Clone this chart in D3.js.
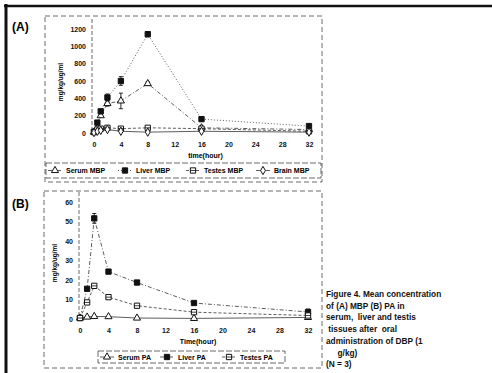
<!DOCTYPE html>
<html>
<head>
<meta charset="utf-8">
<script src="https://cdn.jsdelivr.net/npm/d3@7"></script>
<style>
  body { margin: 0; background: #fff; }
  svg { font-family: "Liberation Sans", Arial, sans-serif; }
  .tick text { font-size: 7px; font-weight: bold; fill: #111; }
</style>
</head>
<body>
<div id="chart"></div>
<script>
// panel A: MBP
const timesA = [0, 0.5, 1, 2, 4, 8, 16, 32];
const serumMBP = [10, 60, 200, 340, 370, 570, 60, 40];
const serumMBPsd = [0, 0, 0, 30, 90, 20, 0, 0];
const liverMBP = [15, 120, 250, 410, 600, 1140, 160, 80];
const liverMBPsd = [0, 0, 20, 40, 50, 30, 20, 20];
const testesMBP = [10, 40, 50, 60, 50, 60, 50, 20];
const brainMBP = [5, 20, 30, 40, 20, 10, 20, 10];
const yTicksA = [0, 200, 400, 600, 800, 1000, 1200];

// panel B: PA
const timesB = [0, 1, 2, 4, 8, 16, 32];
const serumPA = [0.5, 1, 1.3, 1.2, 0.5, 0.3, 0.8];
const liverPA = [0.5, 15.5, 51.6, 24.3, 18.7, 8.2, 3.6];
const liverPAsd = [0, 0, 2.5, 0, 0, 0, 1.5];
const testesPA = [0.5, 8.5, 17, 11.2, 6.8, 3.5, 1.8];
const yTicksB = [0, 10, 20, 30, 40, 50, 60];

const xTicks = [0, 4, 8, 12, 16, 20, 24, 28, 32];

const caption = ["Figure 4. Mean concentration", "of (A) MBP (B) PA in",
  "serum,  liver and testis", " tissues after  oral",
  "administration of DBP (1", "     g/kg)", "(N = 3)"];

const W = 492, H = 373;
const svg = d3.select("#chart").append("svg")
  .attr("width", W).attr("height", H);

// outer frame (top + left)
svg.append("line").attr("x1", 4).attr("x2", W).attr("y1", 6).attr("y2", 6)
  .attr("stroke", "#111").attr("stroke-width", 2.5);
svg.append("line").attr("x1", 6).attr("x2", 6).attr("y1", 4).attr("y2", H)
  .attr("stroke", "#111").attr("stroke-width", 3);

// dashed panel boxes
svg.append("rect").attr("x", 45).attr("y", 16).attr("width", 277).attr("height", 166)
  .attr("fill", "none").attr("stroke", "#444").attr("stroke-width", 0.8).attr("stroke-dasharray", "5,3");
svg.append("rect").attr("x", 44).attr("y", 191).attr("width", 278).attr("height", 177)
  .attr("fill", "none").attr("stroke", "#444").attr("stroke-width", 0.8).attr("stroke-dasharray", "5,3");

svg.append("text").attr("x", 12).attr("y", 31).text("(A)")
  .style("font-size", "12px").style("font-weight", "bold");
svg.append("text").attr("x", 12).attr("y", 208).text("(B)")
  .style("font-size", "12px").style("font-weight", "bold");

function symbolOf(kind) {
  if (kind == "tri") return d3.symbol().type(d3.symbolTriangle).size(22)();
  if (kind == "dia") return d3.symbol().type(d3.symbolDiamond).size(20)();
  return d3.symbol().type(d3.symbolSquare).size(28)();
}

function drawMarker(g, kind, x, y) {
  const filled = kind == "sq";
  g.append("path").attr("d", symbolOf(kind))
    .attr("transform", `translate(${x},${y})`)
    .attr("fill", filled ? "#111" : "#fff")
    .attr("stroke", "#111").attr("stroke-width", 1);
  if (kind == "osq") {
    g.append("line").attr("x1", x - 2.6).attr("x2", x + 2.6).attr("y1", y).attr("y2", y)
      .attr("stroke", "#111").attr("stroke-width", 0.8);
  }
}

function panel(opts) {
  const x = d3.scaleLinear().domain([0, 32]).range(opts.xr);
  const y = d3.scaleLinear().domain([0, opts.ymax]).range(opts.yr);
  const g = svg.append("g");

  // y axis (dashed line, labels only)
  g.append("line").attr("x1", opts.axisX).attr("x2", opts.axisX)
    .attr("y1", opts.yr[1] - 10).attr("y2", opts.yr[0] + 2)
    .attr("stroke", "#444").attr("stroke-width", 0.8).attr("stroke-dasharray", "4,2");

  const ya = g.append("g").attr("transform", `translate(${opts.axisX},0)`)
    .call(d3.axisLeft(y).tickValues(opts.yTicks).tickFormat(d3.format("d")).tickSize(0).tickPadding(6));
  ya.select(".domain").remove();

  const xa = g.append("g").attr("transform", `translate(0,${opts.yr[0] + 6})`)
    .call(d3.axisBottom(x).tickValues(xTicks).tickSize(0).tickPadding(3));
  xa.select(".domain").remove();

  g.append("text").attr("x", (opts.xr[0] + opts.xr[1]) / 2 + 4).attr("y", opts.xlabY)
    .attr("text-anchor", "middle").text(opts.xlab)
    .style("font-size", "7px").style("font-weight", "bold");
  g.append("text").attr("transform", `translate(${opts.ylabX},${opts.ylabY}) rotate(-90)`)
    .attr("text-anchor", "middle").text("mg/kg/ug/ml")
    .style("font-size", "6.5px").style("font-weight", "bold");

  opts.series.forEach(s => {
    const pts = opts.times.map((t, i) => [t, s.vals[i], s.sd ? s.sd[i] : 0]);
    const line = d3.line().x(d => x(d[0])).y(d => y(d[1]));
    g.append("path").datum(pts).attr("d", line)
      .attr("fill", "none").attr("stroke", "#333").attr("stroke-width", s.w || 0.8)
      .attr("stroke-dasharray", s.dash);
    pts.forEach(d => {
      if (d[2] > 0) {
        const cx = x(d[0]);
        g.append("line").attr("x1", cx).attr("x2", cx).attr("y1", y(d[1] - d[2])).attr("y2", y(d[1] + d[2]))
          .attr("stroke", "#111").attr("stroke-width", 0.9);
        [d[1] - d[2], d[1] + d[2]].forEach(v => {
          g.append("line").attr("x1", cx - 2).attr("x2", cx + 2).attr("y1", y(v)).attr("y2", y(v))
            .attr("stroke", "#111").attr("stroke-width", 0.9);
        });
      }
    });
    pts.forEach(d => drawMarker(g, s.kind, x(d[0]), y(d[1])));
  });

  // legend box
  const lg = opts.legend;
  g.append("rect").attr("x", lg.x).attr("y", lg.y).attr("width", lg.w).attr("height", lg.h)
    .attr("fill", "#fff").attr("stroke", "#444").attr("stroke-width", 0.8).attr("stroke-dasharray", "6,2");
  opts.series.forEach((s, i) => {
    const lx = lg.items[i];
    const ly = lg.y + lg.h / 2;
    g.append("line").attr("x1", lx).attr("x2", lx + 14).attr("y1", ly).attr("y2", ly)
      .attr("stroke", "#333").attr("stroke-width", 0.8).attr("stroke-dasharray", s.dash);
    drawMarker(g, s.kind, lx + 7, ly);
    g.append("text").attr("x", lx + 18).attr("y", ly + 2.5).text(s.name)
      .style("font-size", "7px").style("font-weight", "bold");
  });
}

panel({
  xr: [94, 309], yr: [133, 29], ymax: 1200, axisX: 92, yTicks: yTicksA,
  xlab: "time(hour)", xlabY: 158, ylabX: 63, ylabY: 82,
  times: timesA,
  series: [
    {name: "Serum MBP", vals: serumMBP, sd: serumMBPsd, kind: "tri", dash: "4,2,1,2"},
    {name: "Liver MBP", vals: liverMBP, sd: liverMBPsd, kind: "sq", dash: "1,2"},
    {name: "Testes MBP", vals: testesMBP, kind: "osq", dash: "3,2"},
    {name: "Brain MBP", vals: brainMBP, kind: "dia", dash: null}
  ],
  legend: {x: 46, y: 163, w: 275, h: 15, items: [48, 118, 186, 256]}
});

panel({
  xr: [80, 308], yr: [319, 202], ymax: 60, axisX: 79, yTicks: yTicksB,
  xlab: "Time(hour)", xlabY: 344, ylabX: 57, ylabY: 263,
  times: timesB,
  series: [
    {name: "Serum PA", vals: serumPA, kind: "tri", dash: null},
    {name: "Liver PA", vals: liverPA, sd: liverPAsd, kind: "sq", dash: "4,2,1,2"},
    {name: "Testes PA", vals: testesPA, kind: "osq", dash: "3,2"}
  ],
  legend: {x: 98, y: 351, w: 187, h: 12, items: [100, 160, 222]}
});

// caption
svg.append("g").selectAll("text").data(caption).join("text")
  .attr("x", 326).attr("y", (d, i) => 297 + i * 11.7)
  .attr("xml:space", "preserve")
  .style("white-space", "pre")
  .text(d => d)
  .style("font-size", "8.3px").style("font-weight", "bold").style("fill", "#111");
</script>
</body>
</html>
